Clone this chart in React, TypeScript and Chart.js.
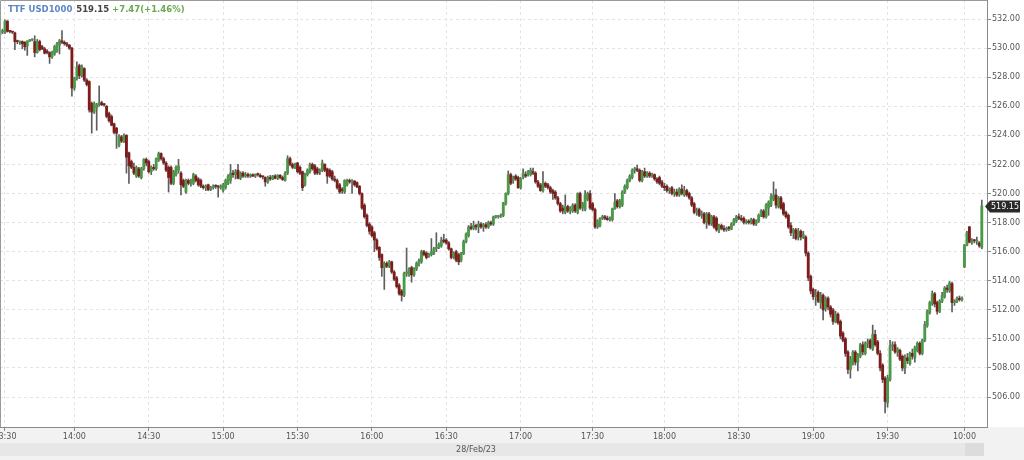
import { useEffect, useRef } from 'react';
import { Chart, registerables } from 'chart.js';

Chart.register(...registerables);

// 1-minute candles, 28/Feb/23 13:28 .. 20:00, then 10:00 .. 10:07 next session
const opens = [
  530.9, 531.1, 531.1, 531.85, 531.15, 531.1, 531.05, 530.45, 530.4, 530.45,
  530.4, 530.15, 530.5, 530.55, 530.45, 529.7, 530.45, 530.1, 529.95, 529.8,
  529.7, 529.4, 529.6, 529.8, 530.2, 530.5, 530.4, 530.3, 530.2, 530.0,
  527.25, 527.9, 528.8, 528.1, 528.6, 527.8, 527.7, 526.2, 525.6, 525.9,
  526.1, 526.25, 526.1, 526.0, 525.5, 525.3, 524.8, 524.5, 523.3, 523.9,
  523.6, 524.0, 522.8, 522.2, 521.8, 521.2, 521.7, 521.1, 521.7, 522.35,
  522.2, 521.5, 521.8, 521.7, 522.3, 522.75, 522.4, 522.1, 521.8, 521.8,
  520.7, 521.3, 521.6, 521.4, 520.9, 520.1, 520.9, 520.7, 520.7, 521.2,
  521.0, 520.9, 520.5, 520.4, 520.6, 520.3, 520.4, 520.5, 520.45, 520.4,
  520.2, 520.4, 520.7, 520.9, 521.4, 521.3, 521.6, 521.05, 521.4, 521.2,
  521.3, 521.2, 521.3, 521.2, 521.3, 521.25, 521.15, 521.1, 520.8, 521.1,
  521.0, 521.2, 521.05, 521.25, 521.1, 520.9, 521.4, 522.4, 522.0, 521.8,
  522.1, 521.8, 521.5, 520.6, 521.3, 521.5, 522.0, 521.9, 521.7, 521.5,
  521.6, 522.0, 521.7, 521.6, 521.5, 521.0, 520.9, 520.6, 520.3, 520.1,
  520.6, 520.9, 520.8, 520.85, 520.75, 520.5, 520.0, 519.2, 518.5, 517.9,
  517.7, 517.3, 516.8, 516.3, 515.8, 514.9, 515.2, 515.0, 515.3, 514.6,
  514.2, 513.7, 513.3, 513.0, 514.5, 514.4, 514.9, 514.4, 514.8, 515.2,
  515.3, 516.0, 515.9, 515.7, 515.8, 515.9, 516.2, 516.3, 516.4, 516.8,
  516.8, 516.6, 516.2, 515.6, 516.0, 515.8, 515.4,
  515.85, 516.7, 517.1, 517.7, 517.6, 517.8, 517.7, 517.9, 517.7, 517.85, 517.7, 518.0,
  517.9, 518.4, 518.4, 518.45, 518.5, 519.3, 520.0, 521.3, 520.9, 521.2,
  521.1, 520.4, 521.1, 521.3, 521.3, 521.3, 521.5, 521.4, 520.8, 520.6,
  520.2, 520.7, 520.6, 520.4, 520.2, 520.1, 519.7, 519.3, 519.0, 518.7,
  519.1, 518.8, 518.8, 519.2, 518.7, 520.0, 519.0, 518.9, 519.6, 520.0,
  519.3, 518.9, 517.7, 517.8, 518.3, 518.4, 518.3, 518.2, 518.2, 518.95,
  519.5, 519.1, 519.2, 520.1, 520.4, 520.9, 521.1, 521.6, 521.7, 521.6,
  520.9, 521.5, 521.2, 521.4, 521.2, 521.3, 521.0, 521.1, 520.8, 520.5,
  520.5, 520.2, 520.4, 520.0, 520.1, 519.9, 520.3, 519.9, 520.2, 520.0,
  519.7, 519.3, 518.7, 518.9, 518.5, 518.6, 518.0, 518.6, 517.9, 518.4,
  518.3, 517.5, 517.8, 517.6, 517.5, 517.6, 517.55, 517.9, 518.1, 518.4,
  518.3, 518.3, 518.0, 518.1, 518.0,
  518.2, 517.9, 518.1, 518.5,
  518.8, 518.4, 519.0, 519.2, 519.6, 519.9, 519.1, 519.7, 519.3, 518.7,
  518.5, 517.8, 517.3, 517.5, 517.0, 517.4, 517.0, 517.0, 515.9, 514.3,
  513.4, 512.9, 513.2, 512.5, 513.0, 512.1, 512.8, 512.2, 512.0, 511.2,
  511.7, 511.2, 510.4, 510.0, 509.1, 507.9, 508.3, 509.1, 508.4, 508.8,
  509.6, 509.0, 509.7, 509.9, 509.3, 510.3, 509.8, 509.0, 508.2, 507.3,
  505.6, 507.2, 509.5, 509.6, 509.1, 509.2, 508.8, 508.0, 508.7, 508.3,
  509.0, 508.7, 509.2, 509.7, 509.0, 509.9, 510.9, 511.8, 512.4, 513.1,
  512.5, 511.9, 512.6, 512.9, 513.5, 513.3, 513.8, 512.5, 512.6, 512.8, 512.7,
  514.95, 516.45, 517.7, 516.65, 516.75, 516.7, 516.6, 516.3,
];

const highs = [
  531.2, 531.3, 531.95, 531.9, 531.2, 531.15, 531.1, 530.55, 530.5, 530.5,
  530.45, 530.5, 530.6, 530.65, 530.85, 530.6, 530.55, 530.2, 530.05, 529.9,
  529.75, 529.8, 530.2, 530.4, 530.6, 531.2, 530.5, 530.4, 530.25, 530.05,
  528.0, 529.05, 528.9, 528.85, 528.65, 527.9, 527.75, 526.3, 526.3, 526.2,
  527.4, 526.35, 526.2, 526.05, 525.6, 525.4, 524.85, 524.55, 524.05, 524.0,
  524.1, 524.05, 522.85, 522.3, 522.1, 521.9, 521.8, 521.8, 522.4, 522.45,
  522.3, 521.9, 522.0, 522.45, 522.85, 522.8, 522.5, 522.2, 521.9, 521.9,
  521.6, 521.9, 522.35, 521.5, 521.0, 521.0, 521.0, 521.0, 521.4, 521.3,
  521.1, 521.0, 520.6, 520.6, 520.65, 520.5, 520.6, 520.6, 520.55, 520.6,
  520.7, 521.0, 521.3, 522.0, 521.6, 521.65, 522.0, 521.5, 521.5, 521.45,
  521.4, 521.35, 521.35, 521.35, 521.4, 521.35, 521.2, 521.15, 521.2, 521.25,
  521.25, 521.3, 521.3, 521.3, 521.2, 521.5, 522.6, 522.5, 522.1, 522.1,
  522.15, 521.9, 521.55, 521.4, 521.7, 522.1, 522.1, 522.0, 521.8, 521.7,
  522.3, 522.05, 521.75, 521.7, 521.6, 521.2, 521.0, 520.7, 520.4, 520.95,
  521.0, 521.0, 520.95, 520.9, 520.8, 520.55, 520.05, 519.3, 518.6, 518.0,
  517.8, 517.4, 516.9, 516.35, 515.85, 515.3, 515.3, 515.4, 515.35, 514.7,
  514.3, 513.8, 513.4, 514.6, 516.25, 514.9, 515.0, 514.9, 515.3, 515.5,
  516.1, 516.1, 516.0, 515.9, 516.9, 516.3, 517.3, 516.6, 517.0, 517.2,
  516.9, 516.7, 516.25, 516.0, 516.1, 515.9, 515.95,
  516.8, 517.3, 517.8, 517.95, 518.1, 517.9, 518.1, 518.0, 517.95, 518.0, 518.1, 518.1,
  518.45, 518.5, 518.5, 518.6, 519.4, 520.05, 521.55, 521.4, 521.2, 521.3,
  521.2, 521.1, 521.7, 521.5, 521.6, 521.75, 521.75, 521.5, 520.9, 520.7,
  521.5, 520.8, 520.7, 520.5, 520.3, 520.2, 519.8, 519.4, 519.2, 519.9,
  519.2, 519.1, 519.3, 519.3, 520.05, 520.1, 519.4, 520.2, 520.1, 520.2,
  519.4, 519.0, 518.2, 518.35, 518.5, 518.5, 518.45, 518.4, 519.0, 520.0,
  519.6, 519.6, 520.2, 520.6, 521.0, 521.3, 521.7, 521.8, 521.95, 521.7,
  521.6, 521.75, 521.5, 521.5, 521.4, 521.35, 521.1, 521.2, 520.9, 520.7,
  520.6, 520.4, 520.5, 520.3, 520.3, 520.4, 520.6, 520.5, 520.3, 520.1,
  519.8, 519.4, 519.0, 519.0, 518.8, 518.7, 518.7, 518.7, 518.5, 518.5,
  518.4, 517.9, 517.9, 517.8, 517.7, 517.75, 518.0, 518.3, 518.5, 518.6,
  518.5, 518.4, 518.2, 518.2, 518.3,
  518.3, 518.2, 518.6, 518.9,
  518.9, 519.3, 519.5, 520.0, 520.8, 520.3, 519.8, 519.8, 519.4, 518.8,
  518.6, 518.0, 517.6, 517.6, 517.6, 517.5, 517.4, 517.1, 516.0, 514.4,
  513.5, 513.4, 513.3, 513.2, 513.1, 512.9, 512.9, 512.3, 512.1, 511.9,
  511.8, 511.3, 510.5, 510.1, 509.2, 508.8, 509.2, 509.2, 509.0, 509.7,
  509.8, 509.8, 510.0, 510.0, 510.95, 510.6, 509.9, 509.2, 508.3, 507.4,
  507.5, 509.9, 509.8, 509.8, 509.4, 509.3, 508.9, 508.9, 509.0, 509.1,
  509.3, 509.5, 509.8, 509.8, 510.0, 511.2, 512.0, 512.6, 513.3, 513.2,
  512.6, 512.7, 513.2, 513.6, 513.7, 513.95, 513.9, 512.7, 512.9, 512.95, 512.9,
  516.5, 517.4, 517.75, 516.9, 516.85, 517.0, 516.7, 519.55,
];

const lows = [
  530.8, 531.0, 531.0, 531.1, 531.05, 531.0, 529.9, 530.3, 530.25, 529.95,
  529.85, 529.5, 530.45, 530.5, 529.4, 529.65, 529.8, 529.9, 529.6, 529.6,
  528.95, 529.3, 529.5, 529.7, 529.6, 530.3, 530.2, 530.1, 529.9, 526.7,
  527.1, 527.8, 527.9, 528.0, 527.7, 527.4, 525.6, 524.15, 525.5, 524.35,
  526.0, 526.05, 526.0, 525.2, 524.9, 524.65, 524.1, 523.1, 523.2, 523.5,
  523.5, 521.4, 520.7, 521.7, 521.3, 521.1, 521.1, 521.0, 521.6, 521.9,
  521.4, 521.3, 521.6, 521.6, 522.2, 522.3, 522.0, 521.5, 520.1, 520.6,
  520.6, 521.2, 521.4, 519.9, 520.4, 520.0, 520.6, 520.5, 520.6, 520.8,
  520.5, 520.4, 520.3, 520.2, 520.2, 520.2, 520.3, 520.35, 519.75, 520.3,
  520.1, 520.3, 520.6, 520.7, 521.1, 521.0, 521.0, 520.95, 521.1, 521.1,
  521.1, 521.1, 521.15, 521.1, 521.2, 521.1, 521.0, 520.5, 520.7, 520.9,
  520.95, 521.0, 520.95, 521.0, 520.9, 520.85, 521.3, 521.9, 521.7, 521.7,
  521.4, 521.3, 520.2, 520.5, 521.2, 521.4, 521.6, 521.3, 521.3, 521.3,
  521.5, 521.5, 520.7, 521.1, 520.9, 520.8, 520.3, 520.0, 520.0, 520.0,
  520.5, 520.7, 520.0, 520.5, 520.4, 519.9, 518.9, 518.3, 517.7, 517.2,
  517.0, 516.0, 516.1, 515.4, 514.3, 513.4, 514.9, 514.9, 514.5, 514.0,
  513.5, 513.0, 512.6, 512.9, 514.3, 514.3, 513.9, 514.3, 514.7, 515.0,
  515.2, 515.7, 515.5, 515.6, 515.7, 515.8, 516.0, 516.2, 516.3, 516.6,
  516.5, 516.1, 515.5, 515.5, 515.3, 515.1, 515.3,
  515.8, 516.6, 517.0, 517.5, 517.5, 517.5, 517.3, 517.6, 517.4, 517.6, 517.6, 517.8,
  517.8, 518.3, 518.3, 518.35, 518.4, 519.2, 519.9, 520.6, 520.7, 520.9,
  520.35, 520.3, 521.0, 521.1, 521.2, 521.2, 521.3, 520.7, 520.4, 520.15,
  520.1, 520.4, 520.3, 520.0, 519.6, 519.6, 519.2, 518.7, 518.6, 518.6,
  518.7, 518.6, 518.7, 518.7, 518.6, 518.9, 518.8, 518.8, 519.5, 518.9,
  518.8, 517.6, 517.6, 517.7, 518.2, 518.2, 518.15, 518.1, 518.1, 518.9,
  519.0, 519.0, 519.1, 520.0, 520.3, 520.8, 521.0, 521.4, 521.5, 520.8,
  520.8, 521.1, 521.1, 521.1, 521.1, 520.9, 520.7, 520.6, 520.4, 520.2,
  520.1, 520.0, 519.9, 519.8, 519.8, 519.8, 519.9, 519.8, 519.8, 519.6,
  519.1, 518.6, 518.5, 518.4, 518.3, 517.9, 517.6, 517.8, 517.8, 517.6,
  517.4, 517.3, 517.5, 517.4, 517.4, 517.45, 517.5, 517.8, 518.0, 518.2,
  518.1, 517.9, 517.9, 517.9, 517.9,
  517.8, 517.8, 518.0, 518.4,
  518.3, 518.3, 518.5, 519.1, 519.5, 519.0, 519.0, 518.9, 518.5, 518.3,
  517.6, 517.1, 516.9, 516.8, 516.8, 516.8, 516.9, 515.7, 514.0, 513.1,
  512.7, 512.3, 512.5, 512.1, 511.3, 511.9, 512.0, 511.5, 511.0, 511.1,
  511.0, 510.0, 509.8, 508.8, 507.6, 507.3, 508.2, 508.2, 507.8, 508.7,
  508.9, 508.9, 509.4, 509.3, 509.2, 509.5, 508.9, 507.8, 507.0, 504.9,
  505.3, 507.1, 509.2, 509.0, 508.8, 508.5, 507.8, 507.6, 508.3, 508.2,
  508.6, 508.4, 509.1, 508.9, 508.9, 509.8, 510.8, 511.7, 512.3, 512.2,
  511.7, 511.8, 512.5, 512.8, 513.2, 513.2, 511.85, 512.3, 512.5, 512.6, 512.6,
  514.9, 516.4, 516.6, 516.5, 516.6, 516.5, 516.3, 516.2,
];

const closes = [
  531.1, 531.2, 531.85, 531.15, 531.1, 531.05, 530.45, 530.4, 530.45, 530.3,
  530.1, 530.5, 530.55, 530.6, 529.7, 530.45, 529.9, 529.95, 529.65, 529.7,
  529.4, 529.7, 530.1, 530.3, 530.5, 530.4, 530.3, 530.2, 530.0, 527.25,
  527.9, 528.7, 528.1, 528.75, 527.8, 527.5, 525.75, 525.6, 526.2, 526.1,
  526.25, 526.1, 526.05, 525.3, 525.0, 524.7, 524.2, 524.15, 523.9, 523.6,
  524.0, 522.5, 521.9, 521.8, 521.4, 521.8, 521.2, 521.7, 522.35, 522.1,
  521.5, 521.8, 521.7, 522.4, 522.75, 522.4, 522.1, 521.6, 521.1, 520.7,
  521.5, 521.8, 521.9, 520.6, 520.5, 520.9, 520.7, 520.9, 521.3, 520.9,
  520.6, 520.5, 520.4, 520.5, 520.25, 520.4, 520.5, 520.45, 520.4, 520.5,
  520.6, 520.9, 521.2, 521.4, 521.3, 521.5, 521.05, 521.4, 521.2, 521.3,
  521.2, 521.3, 521.2, 521.3, 521.25, 521.15, 521.1, 520.8, 521.1, 521.0,
  521.2, 521.05, 521.25, 521.1, 520.95, 521.4, 522.4, 522.0, 521.8, 522.0,
  521.5, 521.4, 520.4, 521.3, 521.6, 522.0, 521.7, 521.4, 521.4, 521.6,
  522.1, 521.6, 521.2, 521.2, 521.0, 520.9, 520.4, 520.1, 520.2, 520.9,
  520.9, 520.8, 520.85, 520.6, 520.45, 520.0, 519.0, 518.4, 517.8, 517.4,
  517.1, 516.8, 516.2, 515.6, 514.9, 515.2, 515.0, 515.3, 514.6, 514.1,
  513.6, 513.1, 513.0, 514.5, 514.6, 514.8, 514.4, 514.8, 515.2, 515.4,
  516.0, 515.8, 515.6, 515.8, 516.0, 516.2, 516.3, 516.5, 516.8, 516.7,
  516.6, 516.2, 515.6, 515.9, 515.4, 515.3, 515.9,
  516.7, 517.2, 517.7, 517.6, 517.8, 517.7, 517.9, 517.7, 517.85, 517.7, 518.0, 517.9,
  518.4, 518.4, 518.45, 518.5, 519.35, 520.0, 521.3, 520.7, 521.1, 521.0,
  520.4, 521.0, 521.4, 521.2, 521.5, 521.6, 521.4, 520.8, 520.5, 520.2,
  520.7, 520.5, 520.4, 520.1, 520.0, 519.7, 519.3, 518.8, 518.8, 519.1,
  518.8, 519.0, 519.2, 518.8, 520.0, 519.0, 519.3, 519.9, 520.0, 519.0,
  518.9, 517.7, 518.1, 518.3, 518.4, 518.3, 518.2, 518.3, 518.95, 519.4,
  519.1, 519.5, 520.1, 520.5, 520.9, 521.2, 521.6, 521.7, 521.6, 520.9,
  521.5, 521.2, 521.4, 521.2, 521.3, 521.0, 520.8, 520.7, 520.5, 520.4,
  520.2, 520.3, 520.0, 520.1, 519.9, 520.3, 520.0, 520.2, 519.9, 519.7,
  519.2, 518.7, 518.8, 518.5, 518.6, 518.0, 518.6, 517.9, 518.4, 517.7,
  517.5, 517.8, 517.6, 517.5, 517.6, 517.55, 517.9, 518.2, 518.4, 518.3,
  518.2, 518.0, 518.1, 518.0, 518.2,
  517.9, 518.1, 518.5, 518.8,
  518.4, 519.2, 519.4, 519.8, 519.9, 519.2, 519.7, 519.0, 518.6, 518.4,
  517.7, 517.3, 517.5, 516.9, 517.4, 517.0, 517.2, 515.9, 514.2, 513.3,
  512.9, 513.0, 512.6, 513.0, 512.0, 512.7, 512.2, 511.7, 511.2, 511.7,
  511.1, 510.2, 509.9, 509.0, 507.9, 508.6, 509.1, 508.4, 508.9, 509.6,
  509.1, 509.7, 509.8, 509.4, 510.3, 509.6, 509.0, 508.0, 507.2, 505.7,
  507.3, 509.5, 509.6, 509.1, 509.3, 508.6, 508.0, 508.7, 508.5, 509.0,
  508.8, 509.4, 509.7, 509.0, 509.9, 511.0, 511.9, 512.5, 513.1, 512.4,
  511.9, 512.6, 513.0, 513.5, 513.4, 513.85, 512.5, 512.6, 512.8, 512.7, 512.8,
  516.45, 517.3, 516.65, 516.75, 516.7, 516.75, 516.4, 519.15,
];

const timeTickIndex = [2, 30, 60, 90, 120, 150, 180, 210, 239, 268, 298, 328, 358, 389];
const timeTickLabels = ['13:30', '14:00', '14:30', '15:00', '15:30', '16:00', '16:30', '17:00', '17:30', '18:00', '18:30', '19:00', '19:30', '10:00'];
const priceTicks = [506, 508, 510, 512, 514, 516, 518, 520, 522, 524, 526, 528, 530, 532];

const instrument = 'TTF USD1000';
const lastPrice = 519.15;
const changeText = '+7.47(+1.46%)';
const dateText = '28/Feb/23';

const W = 1024;
const H = 460;

export default function App() {
  const ref = useRef<HTMLCanvasElement | null>(null);

  useEffect(() => {
    const canvas = ref.current;
    if (!canvas) return;
    const n = Math.min(opens.length, highs.length, lows.length, closes.length);
    const bodies: any[] = [];
    const wicks: any[] = [];
    const colors: string[] = [];
    for (let i = 0; i < n; i++) {
      const o = opens[i];
      const c = closes[i];
      const top = Math.abs(c - o) < 0.07 ? o + 0.07 : c;
      bodies.push({ x: i, y: [o, top] });
      wicks.push({ x: i, y: [lows[i], highs[i]] });
      colors.push(c >= o ? '#4a9a48' : '#7e1c1c');
    }

    const frame = {
      id: 'frame',
      beforeDraw(chart: any) {
        const ctx = chart.ctx;
        const a = chart.chartArea;
        ctx.save();
        ctx.fillStyle = '#ffffff';
        ctx.fillRect(0, 0, W, H);
        ctx.fillStyle = '#f2f2f2';
        ctx.fillRect(0, a.bottom, W, H - a.bottom);
        ctx.fillStyle = '#e7e7e7';
        ctx.fillRect(0, 443, 984, 13);
        ctx.fillStyle = '#dcdcdc';
        ctx.fillRect(965, 443, 19, 13);
        ctx.restore();
      },
      afterDraw(chart: any) {
        const ctx = chart.ctx;
        const a = chart.chartArea;
        const y = chart.scales.y;
        ctx.save();
        ctx.strokeStyle = '#9a9a9a';
        ctx.lineWidth = 1;
        ctx.beginPath();
        ctx.moveTo(0.5, a.bottom);
        ctx.lineTo(0.5, 0.5);
        ctx.lineTo(a.right, 0.5);
        ctx.stroke();

        ctx.font = 'bold 8.5px "DejaVu Sans"';
        ctx.textBaseline = 'middle';
        ctx.textAlign = 'left';
        let tx = 8;
        ctx.fillStyle = '#5b87c5';
        ctx.fillText(instrument, tx, 10);
        tx += ctx.measureText(instrument).width + 4;
        ctx.fillStyle = '#444444';
        const lp = lastPrice.toFixed(2);
        ctx.fillText(lp, tx, 10);
        tx += ctx.measureText(lp).width + 3;
        ctx.fillStyle = '#6aa84f';
        ctx.fillText(changeText, tx, 10);

        ctx.font = '8px "DejaVu Sans"';
        ctx.fillStyle = '#555555';
        ctx.textAlign = 'center';
        ctx.fillText(dateText, 476, 450);

        const py = Math.round(y.getPixelForValue(lastPrice)) + 0.5;
        ctx.fillStyle = '#2a2a2a';
        ctx.beginPath();
        ctx.moveTo(a.right - 2, py);
        ctx.lineTo(a.right + 3, py - 6);
        ctx.lineTo(W - 4, py - 6);
        ctx.lineTo(W - 4, py + 6);
        ctx.lineTo(a.right + 3, py + 6);
        ctx.closePath();
        ctx.fill();
        ctx.fillStyle = '#ffffff';
        ctx.textAlign = 'left';
        ctx.font = '8px "DejaVu Sans"';
        ctx.fillText(lp, a.right + 4, py + 0.5);
        ctx.restore();
      },
    };

    const chart = new Chart(canvas, {
      type: 'bar',
      data: {
        datasets: [
          {
            label: 'body',
            data: bodies,
            backgroundColor: colors,
            borderWidth: 0,
            barThickness: 2.2,
            grouped: false,
            order: 1,
          } as any,
          {
            label: 'wick',
            data: wicks,
            backgroundColor: '#5e5e5e',
            borderWidth: 0,
            barThickness: 1,
            grouped: false,
            order: 2,
          } as any,
        ],
      },
      options: {
        animation: false,
        responsive: false,
        maintainAspectRatio: false,
        layout: { padding: 0 },
        plugins: { legend: { display: false }, tooltip: { enabled: false } },
        scales: {
          x: {
            type: 'linear',
            min: 0,
            max: 398.1,
            offset: false,
            afterBuildTicks: (s: any) => {
              s.ticks = timeTickIndex.map((v) => ({ value: v }));
            },
            afterFit: (s: any) => {
              s.height = 33;
              s.paddingLeft = 0;
              s.paddingRight = 0;
            },
            ticks: {
              autoSkip: false,
              maxRotation: 0,
              padding: 1,
              color: '#555555',
              font: { family: 'DejaVu Sans', size: 8 },
              callback: (v: any) => {
                const k = timeTickIndex.indexOf(Number(v));
                return k >= 0 ? timeTickLabels[k] : '';
              },
            },
            grid: { offset: false, color: '#e4e4e4', lineWidth: 1, tickLength: 4, tickColor: '#888888', tickBorderDash: [] },
            border: { display: true, color: '#8a8a8a', width: 1, dash: [3, 3] },
          } as any,
          y: {
            type: 'linear',
            position: 'right',
            min: 503.94,
            max: 533.31,
            afterBuildTicks: (s: any) => {
              s.ticks = priceTicks.map((v) => ({ value: v }));
            },
            afterFit: (s: any) => {
              s.width = 37;
              s.paddingTop = 0;
              s.paddingBottom = 0;
            },
            ticks: {
              padding: 1,
              color: '#555555',
              font: { family: 'DejaVu Sans', size: 8 },
              callback: (v: any) => Number(v).toFixed(2),
            },
            grid: { offset: false, color: '#e4e4e4', lineWidth: 1, tickLength: 4, tickColor: '#888888', tickBorderDash: [] },
            border: { display: true, color: '#8a8a8a', width: 1, dash: [3, 3] },
          } as any,
        },
      },
      plugins: [frame],
    });

    return () => {
      chart.destroy();
    };
  }, []);

  return (
    <div style={{ position: 'fixed', left: 0, top: 0, width: W, height: H, background: '#fff' }}>
      <canvas ref={ref} width={W} height={H} style={{ display: 'block', width: W, height: H }} />
    </div>
  );
}
